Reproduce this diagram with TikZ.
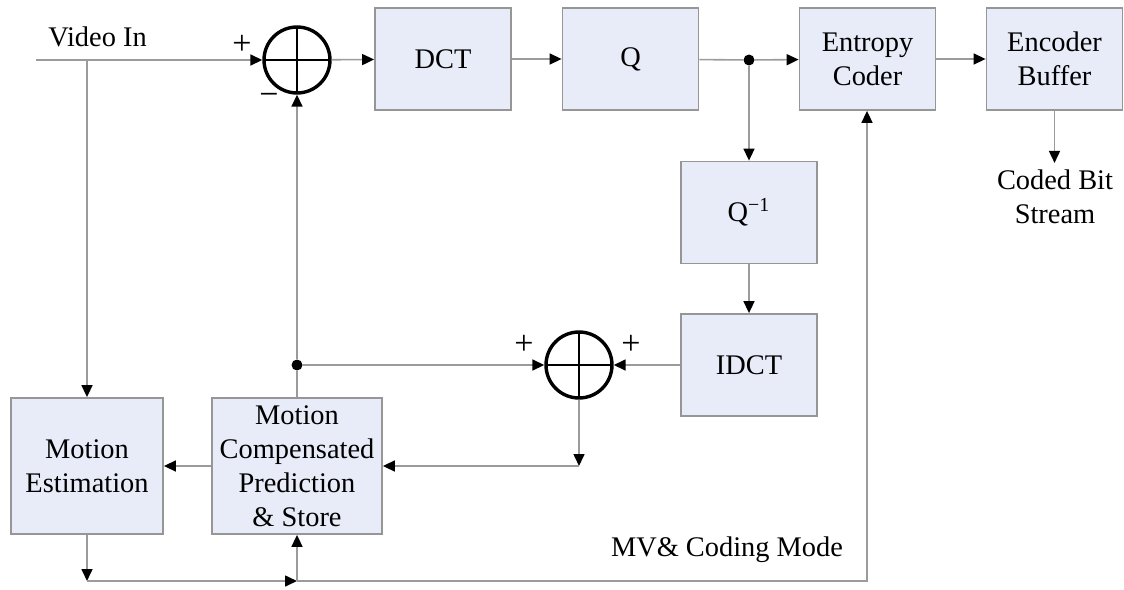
\documentclass[tikz,border=0pt]{standalone}
\usepackage{fontspec}
\setmainfont{Liberation Serif}
\usetikzlibrary{arrows.meta}

\definecolor{blkfill}{RGB}{232,236,248}
\definecolor{blkline}{RGB}{150,150,150}
\definecolor{wiregray}{RGB}{155,155,155}

\tikzset{
  blk/.style={draw=blkline,fill=blkfill,line width=0.9pt,minimum width=68pt,minimum height=51pt,align=center,inner sep=0pt},
  sumnode/.style={circle,draw,line width=1.7pt,minimum size=33pt,inner sep=0pt,
    path picture={\draw[line width=0.9pt] (path picture bounding box.north)--(path picture bounding box.south)
      (path picture bounding box.west)--(path picture bounding box.east);}},
  wire/.style={draw=wiregray,line width=0.8pt},
  arr/.style={wire,-{Triangle[length=6pt,width=5.5pt,color=black]}},
  jdot/.style={circle,fill,inner sep=0pt,minimum size=5.5pt},
  sgn/.style={inner sep=0pt,font=\fontsize{17}{20}\selectfont}
}

\begin{document}
\begin{tikzpicture}[x=0.5pt,y=-0.5pt,font=\fontsize{14.2}{17}\selectfont]
\useasboundingbox (0,0) rectangle (1124,589);
\node[blk] (dct) at (443,59) {DCT};
\node[blk] (q) at (630.5,59) {Q};
\node[blk] (ec) at (867.5,59) {Entropy\\Coder};
\node[blk] (eb) at (1054.5,59) {Encoder\\Buffer};
\node[blk] (iq) at (749,212.5) {Q\textsuperscript{−1}};
\node[blk] (idct) at (749,365) {IDCT};
\node[blk,minimum width=76pt,minimum height=68pt] (me) at (87,466) {Motion\\Estimation};
\node[blk,minimum width=85pt,minimum height=68pt] (mcp) at (297,466) {Motion\\Compensated\\Prediction\\\& Store};
\node[sumnode] (s1) at (297,60) {};
\node[sumnode] (s2) at (579,365) {};
\node[jdot] (d1) at (749,60) {};
\node[jdot] (d2) at (297,365) {};
\node (vin) at (97.5,37) {Video In};
\node[align=center] (out) at (1055,197) {Coded Bit\\Stream};
\node (mv) at (727,550) {MV\& Coding Mode};
\node[sgn] (p1) at (242,45) {+};
\node[sgn] (m1) at (269,99) {−};
\node[sgn] (p2) at (524,345) {+};
\node[sgn] (p3) at (631,345) {+};
\coordinate (in) at (36,60);
\coordinate (br) at (87,60);
\coordinate (s2d) at (579,466);
\coordinate (b1) at (87,581);
\coordinate (b2) at (297,581);
\coordinate (b3) at (867,581);

\draw[arr] (in) -- (s1);
\draw[arr] (br) -- (me);
\draw[arr] (s1) -- (dct);
\draw[arr] (dct) -- (q);
\draw[wire] (q) -- (d1);
\draw[arr] (d1) -- (ec);
\draw[arr] (ec) -- (eb);
\draw[arr] (eb) -- (out.north -| eb);
\draw[arr] (d1) -- (iq);
\draw[arr] (iq) -- (idct);
\draw[arr] (idct) -- (s2);
\draw[arr] (d2) -- (s2);
\draw[arr] (d2) -- (s1);
\draw[wire] (d2) -- (mcp);
\draw[arr] (s2) -- (s2d);
\draw[arr] (s2d) -- (mcp);
\draw[arr] (mcp) -- (me);
\draw[arr] (me) -- (b1);
\draw[arr] (b1) -- (b2);
\draw[arr] (b2) -- (mcp);
\draw[arr] (b2) -- (b3) -- (b3 |- ec.south);
\end{tikzpicture}
\end{document}
